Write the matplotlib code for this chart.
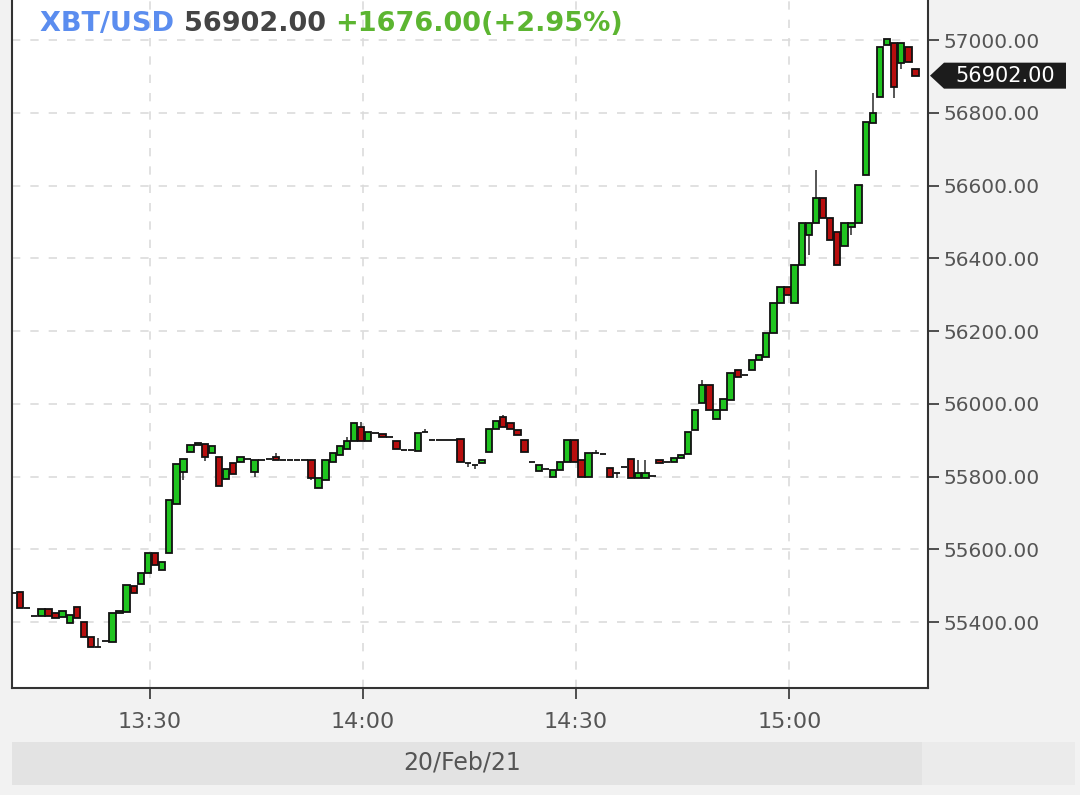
import matplotlib
matplotlib.use("Agg")
import matplotlib.pyplot as plt
import matplotlib.dates as mdates
import pandas as pd
from matplotlib.patches import Polygon, Rectangle

# --- Data (1-minute candles, 20 Feb 2021, starting 13:10) ---
SYMBOL = "XBT/USD"
LAST_PRICE = 56902.00
CHANGE = 1676.00
CHANGE_PCT = 2.95
DATE_LABEL = "20/Feb/21"
START = "2021-02-20 13:10"

opens = [
    55480, 55483, 55438, 55416, 55416, 55436, 55425, 55414, 55397, 55441,
    55400, 55359, 55331, 55348, 55345, 55425, 55427, 55500, 55504, 55535,
    55590, 55543, 55590, 55724, 55812, 55867, 55886, 55890, 55865, 55854,
    55793, 55837, 55840, 55848, 55813, 55846, 55848, 55854, 55846, 55846,
    55846, 55846, 55846, 55769, 55791, 55840, 55859, 55876, 55898, 55936,
    55898, 55920, 55917, 55909, 55898, 55873, 55873, 55870, 55922, 55900,
    55900, 55900, 55900, 55903, 55838, 55832, 55838, 55867, 55930, 55963,
    55947, 55928, 55900, 55840, 55815, 55821, 55799, 55818, 55840, 55900,
    55846, 55799, 55865, 55862, 55823, 55810, 55826, 55848, 55796, 55796,
    55801, 55845, 55840, 55840, 55851, 55862, 55928, 56002, 56052, 55958,
    55983, 56010, 56093, 56080, 56093, 56120, 56128, 56194, 56277, 56321,
    56277, 56381, 56464, 56497, 56566, 56511, 56472, 56434, 56486, 56497,
    56629, 56772, 56843, 56986, 56992, 56937, 56981, 56920,
]
highs = [
    55480, 55483, 55438, 55416, 55436, 55436, 55425, 55430, 55419, 55441,
    55400, 55359, 55356, 55348, 55425, 55430, 55502, 55500, 55535, 55590,
    55590, 55565, 55735, 55835, 55848, 55886, 55892, 55890, 55884, 55854,
    55820, 55837, 55854, 55848, 55846, 55846, 55848, 55865, 55846, 55846,
    55846, 55846, 55846, 55796, 55846, 55865, 55884, 55910, 55947, 55950,
    55922, 55920, 55917, 55909, 55898, 55873, 55873, 55920, 55930, 55900,
    55900, 55900, 55900, 55903, 55838, 55832, 55845, 55930, 55953, 55969,
    55947, 55928, 55900, 55840, 55832, 55821, 55818, 55840, 55900, 55900,
    55846, 55865, 55873, 55862, 55823, 55810, 55826, 55848, 55845, 55845,
    55801, 55845, 55840, 55851, 55859, 55922, 55983, 56065, 56052, 55983,
    56013, 56085, 56093, 56080, 56120, 56134, 56194, 56277, 56321, 56321,
    56381, 56497, 56497, 56643, 56566, 56511, 56472, 56497, 56497, 56601,
    56775, 56854, 56981, 57003, 56992, 56992, 56981, 56920,
]
lows = [
    55480, 55438, 55438, 55416, 55416, 55416, 55411, 55414, 55397, 55411,
    55359, 55331, 55331, 55348, 55345, 55425, 55427, 55480, 55504, 55535,
    55557, 55543, 55590, 55724, 55790, 55867, 55886, 55843, 55865, 55774,
    55793, 55807, 55840, 55848, 55799, 55846, 55848, 55845, 55846, 55846,
    55846, 55846, 55790, 55769, 55791, 55840, 55859, 55876, 55898, 55898,
    55898, 55920, 55909, 55909, 55876, 55873, 55873, 55870, 55922, 55900,
    55900, 55900, 55900, 55840, 55825, 55820, 55838, 55867, 55930, 55936,
    55930, 55914, 55867, 55840, 55815, 55821, 55799, 55818, 55840, 55840,
    55799, 55799, 55865, 55862, 55799, 55796, 55826, 55796, 55796, 55796,
    55801, 55837, 55840, 55840, 55851, 55862, 55928, 56002, 55983, 55958,
    55983, 56010, 56074, 56080, 56093, 56120, 56128, 56194, 56277, 56299,
    56277, 56381, 56409, 56497, 56511, 56450, 56381, 56434, 56464, 56497,
    56629, 56772, 56843, 56986, 56841, 56920, 56940, 56902,
]
closes = [
    55480, 55438, 55438, 55416, 55436, 55416, 55411, 55430, 55419, 55411,
    55359, 55331, 55331, 55348, 55425, 55430, 55502, 55480, 55535, 55590,
    55557, 55565, 55735, 55835, 55848, 55886, 55892, 55854, 55884, 55774,
    55820, 55807, 55854, 55848, 55846, 55846, 55848, 55845, 55846, 55846,
    55846, 55846, 55796, 55796, 55846, 55865, 55884, 55898, 55947, 55898,
    55922, 55920, 55909, 55909, 55876, 55873, 55873, 55920, 55922, 55900,
    55900, 55900, 55900, 55840, 55838, 55832, 55845, 55930, 55953, 55936,
    55930, 55914, 55867, 55840, 55832, 55821, 55818, 55840, 55900, 55840,
    55799, 55865, 55865, 55862, 55799, 55810, 55826, 55796, 55810, 55810,
    55801, 55837, 55840, 55851, 55859, 55922, 55983, 56052, 55983, 55983,
    56013, 56085, 56074, 56080, 56120, 56134, 56194, 56277, 56321, 56299,
    56381, 56497, 56497, 56566, 56511, 56450, 56381, 56497, 56497, 56601,
    56775, 56799, 56981, 57003, 56871, 56992, 56940, 56902,
]

y_ticks = [55400, 55600, 55800, 56000, 56200, 56400, 56600, 56800, 57000]

# --- Colours ---
BG = "#f2f2f2"
UP = "#1fc41f"
DOWN = "#b80e0e"
GRID = "#dcdcdc"
AXIS = "#333333"
TEXT = "#555555"

W, H = 1080, 795
fig = plt.figure(figsize=(W / 100, H / 100), dpi=100, facecolor=BG)
ax = fig.add_axes([12 / W, 1 - 688 / H, (928 - 12) / W, 688 / H])
ax.set_facecolor("white")

times = pd.date_range(START, periods=len(opens), freq="1min")
centers = times + pd.Timedelta(seconds=45)
x = mdates.date2num(centers)
bar_w = 0.9 / (24 * 60)

colors = [UP if c >= o else DOWN for o, c in zip(opens, closes)]
bottoms = [min(o, c) for o, c in zip(opens, closes)]
heights = [abs(c - o) for o, c in zip(opens, closes)]

ax.vlines(x, lows, highs, color="#3a3a3a", linewidth=1.2, zorder=2)
ax.bar(x, heights, bottom=bottoms, width=bar_w, color=colors,
       edgecolor="#111111", linewidth=1.3, zorder=3)

# axes limits
ax.set_xlim(mdates.date2num(pd.Timestamp("2021-02-20 13:10:37")),
            mdates.date2num(pd.Timestamp("2021-02-20 15:19:31")))
ax.set_ylim(55218.6, 57110)

# x axis
ax.xaxis.set_major_locator(mdates.MinuteLocator(byminute=[0, 30]))
ax.xaxis.set_major_formatter(mdates.DateFormatter("%H:%M"))
ax.tick_params(axis="x", length=8, width=1.2, color=AXIS, pad=9,
               labelsize=16, labelcolor=TEXT)

# y axis on the right
ax.yaxis.tick_right()
ax.set_yticks(y_ticks)
ax.set_yticklabels([f"{v:.2f}" for v in y_ticks])
ax.tick_params(axis="y", length=8, width=1.2, color=AXIS, pad=3,
               labelsize=14.5, labelcolor=TEXT)

ax.grid(True, color=GRID, linestyle=(0, (5, 6)), linewidth=1.2, zorder=0)
ax.set_axisbelow(True)

for side in ["left", "bottom", "right"]:
    ax.spines[side].set_color(AXIS)
    ax.spines[side].set_linewidth(1.5)
ax.spines["top"].set_visible(False)

# date band under the chart
fig.patches.append(Rectangle((12 / W, (H - 785) / H), (922 - 12) / W, 43 / H,
                             transform=fig.transFigure, facecolor="#e3e3e3",
                             edgecolor="none", zorder=0))
fig.patches.append(Rectangle((922 / W, (H - 785) / H), (1075 - 922) / W, 43 / H,
                             transform=fig.transFigure, facecolor="#ebebeb",
                             edgecolor="none", zorder=0))
fig.text(462 / W, 1 - 763 / H, DATE_LABEL, ha="center", va="center",
         fontsize=17, color=TEXT)

# header: symbol, price, change
fig.canvas.draw()
renderer = fig.canvas.get_renderer()
parts = [
    (SYMBOL + " ", "#5b8def"),
    (f"{LAST_PRICE:.2f} ", "#444444"),
    (f"+{CHANGE:.2f}(+{CHANGE_PCT:.2f}%)", "#5cb531"),
]
cur_x = 40
for txt, col in parts:
    t = fig.text(cur_x / W, 1 - 24 / H, txt, ha="left", va="center",
                 fontsize=19.5, fontweight="bold", color=col)
    bb = t.get_window_extent(renderer=renderer)
    cur_x += bb.width

# last price tag on the right axis
y_disp = ax.transData.transform((0, LAST_PRICE))[1]
tip_x, body_x0, body_x1, half = 930, 944, 1066, 13
tag = Polygon([(tip_x, y_disp), (body_x0, y_disp + half), (body_x1, y_disp + half),
               (body_x1, y_disp - half), (body_x0, y_disp - half)],
              closed=True, transform=None, facecolor="#1c1c1c", edgecolor="none",
              zorder=10)
fig.patches.append(tag)
fig.text((body_x0 + body_x1) / 2 / W, y_disp / H, f"{LAST_PRICE:.2f}",
         ha="center", va="center", fontsize=15, color="white", zorder=11)

fig.savefig("out.png", dpi=100, facecolor=BG)
